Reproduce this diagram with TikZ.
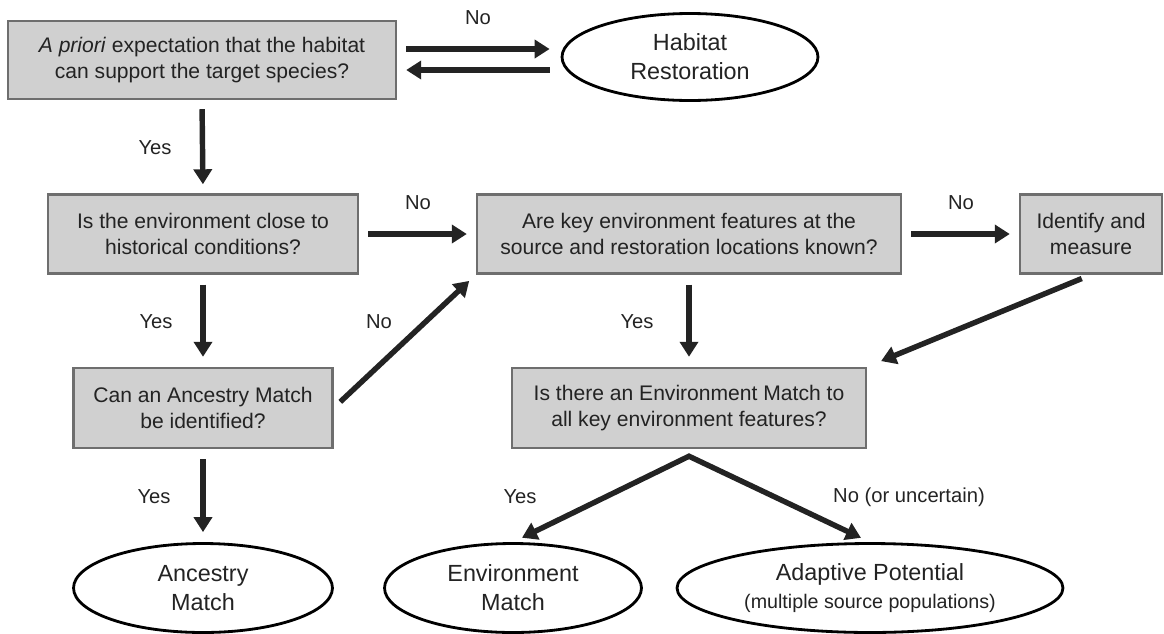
\documentclass[tikz,border=0pt]{standalone}
\usepackage{fontspec}
\setmainfont{Liberation Sans}
\usetikzlibrary{shapes.geometric,arrows.meta}
\definecolor{boxgray}{RGB}{208,208,208}
\definecolor{edgegray}{RGB}{110,110,110}
\definecolor{inkgray}{RGB}{35,35,35}

\begin{document}
\begin{tikzpicture}[
    x = 0.02cm, y = -0.02cm,
    every node/.style = {text = inkgray},
    question/.style = {draw = edgegray, line width = 1.4pt, fill = boxgray,
        align = center, inner sep = 0pt, font = \fontsize{12}{15.3}\selectfont},
    outcome/.style = {ellipse, draw = black, line width = 1.6pt, fill = white,
        align = center, inner sep = 0pt, font = \fontsize{13.3}{16.4}\selectfont},
    answer/.style = {font = \fontsize{11.5}{13}\selectfont},
    flow/.style = {draw = inkgray, line width = 3.1pt,
        -{Triangle[length = 0.3cm, width = 0.36cm]},
        shorten <= 0.18cm, shorten >= 0.18cm},
    fork/.style = {draw = inkgray, line width = 3.1pt, line join = miter,
        {Triangle[length = 0.3cm, width = 0.36cm]}-{Triangle[length = 0.3cm, width = 0.36cm]},
        shorten <= 0.2cm, shorten >= 0.2cm}]

\useasboundingbox (0,0) rectangle (1164,633);

% decision boxes
\path (202,60) node[question, minimum width = 7.76cm, minimum height = 1.56cm] (prior)
        {\textit{A priori} expectation that the habitat\\can support the target species?}
      (203,234) node[question, minimum width = 6.2cm, minimum height = 1.58cm] (envclose)
        {Is the environment close to\\historical conditions?}
      (689,234) node[question, minimum width = 8.48cm, minimum height = 1.58cm] (keyknown)
        {Are key environment features at the\\source and restoration locations known?}
      (1091,234) node[question, minimum width = 2.84cm, minimum height = 1.58cm] (identify)
        {Identify and\\measure}
      (203,408) node[question, minimum width = 5.18cm, minimum height = 1.6cm] (ancestryq)
        {Can an Ancestry Match\\be identified?}
      (689,408) node[question, minimum width = 7.08cm, minimum height = 1.6cm] (envmatchq)
        {Is there an Environment Match to\\all key environment features?};

% outcomes
\path (690,57) node[outcome, minimum width = 5.12cm, minimum height = 1.74cm] (habitat)
        {Habitat\\Restoration}
      (203,588) node[outcome, minimum width = 5.18cm, minimum height = 1.78cm] (ancestry)
        {Ancestry\\Match}
      (513,588) node[outcome, minimum width = 5.14cm, minimum height = 1.78cm] (envmatch)
        {Environment\\Match}
      (870,588) node[outcome, minimum width = 7.72cm, minimum height = 1.78cm] (adaptive)
        {Adaptive Potential\\{\fontsize{11.2}{13}\selectfont (multiple source populations)}};

% connectors
\draw[flow, shorten >= 0.22cm] ([yshift = 0.22cm]prior.east) -- ([yshift = 0.22cm]prior.east -| habitat.west);
\draw[flow, shorten <= 0.22cm] ([yshift = -0.2cm]prior.east -| habitat.west) -- ([yshift = -0.2cm]prior.east);
\draw[flow] (prior.south) -- (envclose.north);
\draw[flow] (envclose.east) -- (keyknown.west);
\draw[flow] (keyknown.east) -- (identify.west);
\draw[flow, shorten <= 0.2cm, shorten >= 0.2cm] (envclose.south) -- (ancestryq.north);
\draw[flow, shorten <= 0.2cm, shorten >= 0.2cm] (keyknown.south) -- (envmatchq.north);
\draw[flow] (ancestryq.east) -- (keyknown.south west);
\draw[flow, shorten <= 0.2cm, shorten >= 0.3cm] (identify.south) -- (envmatchq.north east);
\draw[flow, shorten <= 0.2cm, shorten >= 0.2cm] (ancestryq.south) -- (ancestry.north);
\coordinate (split) at ([yshift = -0.14cm]envmatchq.south);
\draw[fork] (envmatch.north) -- (split) -- (adaptive.north);

% answers
\path (478,18) node[answer] (noprior) {No}
      (155,148) node[answer] (yesprior) {Yes}
      (418,203) node[answer] (noclose) {No}
      (961,203) node[answer] (noknown) {No}
      (156,322) node[answer] (yesclose) {Yes}
      (379,322) node[answer] (noancestry) {No}
      (637,322) node[answer] (yesknown) {Yes}
      (154,497) node[answer] (yesancestry) {Yes}
      (520,497) node[answer] (yesmatch) {Yes}
      (909,497) node[answer] (nomatch) {No (or uncertain)};
\end{tikzpicture}
\end{document}
